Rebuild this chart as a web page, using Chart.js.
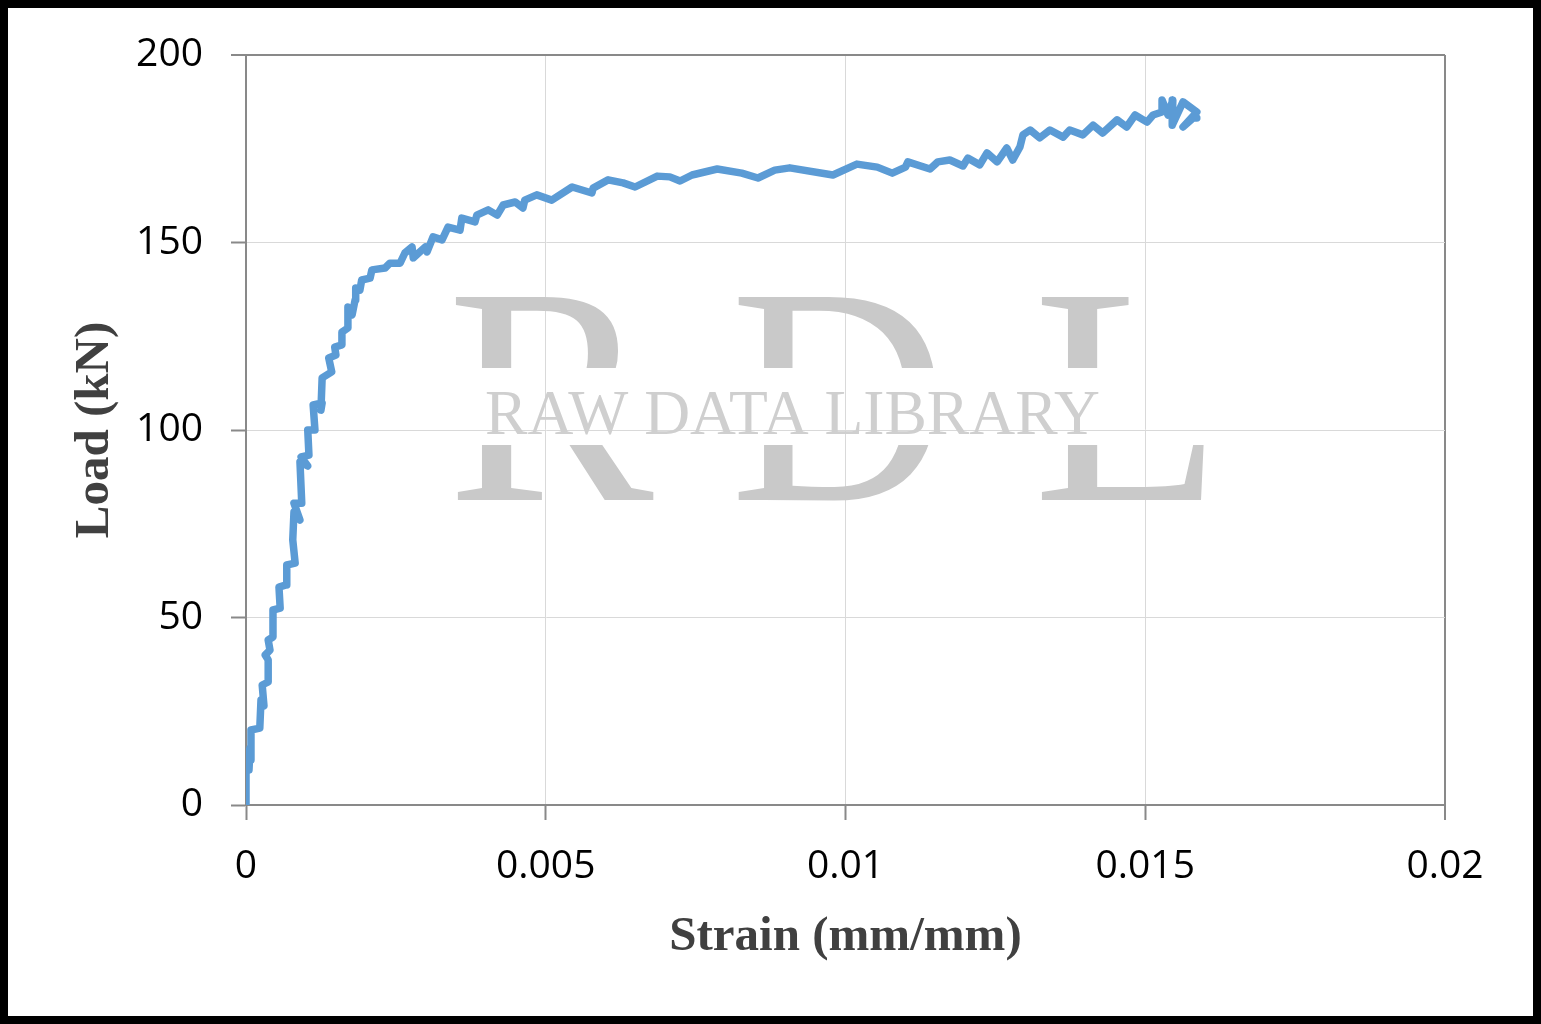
<!DOCTYPE html>
<html>
<head>
<meta charset="utf-8">
<script src="https://cdn.jsdelivr.net/npm/chart.js@4"></script>
<style>
  html, body { margin: 0; padding: 0; background: #fff; }
  #wrap { width: 1541px; height: 1024px; position: relative; }
</style>
</head>
<body>
<div id="wrap"><canvas id="chart"></canvas></div>
<script>
// strain (mm/mm) vs load (kN)
var strain = [0, 0, 0.00005, 0.000067, 0.000083, 0.000083, 0.00023, 0.00025, 0.0003, 0.00027,
  0.00037, 0.00037, 0.00032, 0.0004, 0.00037, 0.00045, 0.00045, 0.00057, 0.00055, 0.00067,
  0.00068, 0.00082, 0.00078, 0.0008, 0.0009, 0.0008, 0.00093, 0.0009, 0.00103, 0.00092,
  0.00105, 0.00103, 0.00115, 0.00112, 0.00127, 0.00125, 0.00127, 0.00143, 0.00138, 0.0015,
  0.00148, 0.0016, 0.0016, 0.0017, 0.0017, 0.00177, 0.00182, 0.00183, 0.0019, 0.00193,
  0.00207, 0.0021, 0.00232, 0.0024, 0.00257, 0.00265, 0.00277, 0.00279, 0.00299, 0.00302,
  0.00312, 0.00327, 0.00337, 0.00357, 0.0036, 0.00382, 0.00385, 0.00404, 0.00419, 0.00429,
  0.00449, 0.00462, 0.00465, 0.00485, 0.0051, 0.00544, 0.00577, 0.00579, 0.00604, 0.00629,
  0.00649, 0.00686, 0.00707, 0.00724, 0.00744, 0.00786, 0.00827, 0.00854, 0.00882, 0.00907,
  0.00979, 0.01019, 0.01053, 0.01078, 0.011, 0.01104, 0.01141, 0.01154, 0.01174, 0.01196,
  0.01204, 0.01224, 0.01236, 0.01253, 0.01269, 0.01279, 0.01291, 0.01296, 0.01308, 0.01324,
  0.01341, 0.01363, 0.01374, 0.01396, 0.01413, 0.01429, 0.01453, 0.01469, 0.01483, 0.01503,
  0.01513, 0.01528, 0.01528, 0.01538, 0.01546, 0.01545, 0.01563, 0.01586, 0.01563, 0.0158,
  0.01586];
var load = [0, 14.1, 9.3, 15.2, 12, 20, 20.5, 28, 26.4, 32,
  32.8, 38.7, 40, 41.3, 44, 44.8, 52, 52.5, 58.1, 58.7,
  64, 64.5, 70.7, 78.1, 76, 80.5, 80.5, 91.5, 90.4, 92.8,
  93.3, 100, 100, 106.7, 107.2, 105.3, 113.9, 115.5, 119.2, 120,
  122.1, 122.7, 126.1, 127.2, 132.8, 130.7, 134.7, 137.9, 137.3, 140,
  140.5, 142.7, 143.2, 144.5, 144.5, 147.2, 148.8, 145.9, 148.8, 147.5,
  151.5, 150.7, 154.1, 153.3, 156.5, 155.5, 157.3, 158.7, 157.3, 160,
  160.8, 159.2, 161.3, 162.7, 161.3, 164.8, 163.2, 164.5, 166.7, 165.9,
  164.8, 167.7, 167.5, 166.4, 168, 169.6, 168.5, 167.2, 169.3, 169.9,
  168, 170.9, 170.1, 168.5, 170.1, 171.5, 169.6, 171.5, 172, 170.4,
  172.5, 170.7, 173.9, 171.5, 175.2, 172, 175.5, 178.7, 180, 177.9,
  180, 178.1, 180, 178.7, 181.3, 179.2, 182.7, 180.8, 184, 182.1,
  184, 184.8, 188, 184, 188, 181.3, 187.5, 184.8, 180.8, 183.2,
  183.2];
var xTicks = [0, 0.005, 0.01, 0.015, 0.02];
var yTicks = [0, 50, 100, 150, 200];

var points = [];
for (var i = 0; i < strain.length; i++)
    points.push({x: strain[i], y: load[i]});

var axisGray = "#898989";
var gridGray = "#d9d9d9";
var titleFont = {family: "'Liberation Serif', 'Times New Roman', serif", size: 49, weight: "bold"};
var tickFont = {family: "'Open Sans', sans-serif", size: 39};

// watermark and outer frame
var decor = {
    id: "decor",
    beforeDatasetsDraw: function(chart) {
        var ctx = chart.ctx;
        ctx.save();
        ctx.fillStyle = "#c9c9c9";
        ctx.font = "310px 'Liberation Serif', serif";
        ctx.textBaseline = "alphabetic";
        ctx.save();
        ctx.beginPath();
        ctx.rect(0, 0, 1541, 368);
        ctx.rect(0, 445, 1541, 600);
        ctx.clip();
        ctx.fillText("R", 447, 500, 212);
        ctx.fillText("D", 730, 500, 218);
        ctx.fillText("L", 1033, 500, 190);
        ctx.restore();
        ctx.fillStyle = "#cfcfcf";
        ctx.font = "64px 'Liberation Serif', serif";
        ctx.fillText("RAW DATA LIBRARY", 485, 434, 615);
        ctx.restore();
    },
    afterDraw: function(chart) {
        var ctx = chart.ctx;
        ctx.save();
        ctx.strokeStyle = "#000";
        ctx.lineWidth = 8;
        ctx.strokeRect(4, 4, 1533, 1016);
        ctx.restore();
    }
};

var chart = new Chart(document.getElementById("chart").getContext("2d"), {
    type: "line",
    data: {
        datasets: [{
            data: points,
            borderColor: "#5B9BD5",
            borderWidth: 7.5,
            borderJoinStyle: "round",
            borderCapStyle: "round",
            pointRadius: 0,
            tension: 0,
            fill: false
        }]
    },
    options: {
        responsive: true,
        maintainAspectRatio: false,
        animation: false,
        layout: {padding: {top: 55, right: 96, left: 0, bottom: 0}},
        plugins: {legend: {display: false}, tooltip: {enabled: false}},
        scales: {
            x: {
                type: "linear",
                min: 0, max: 0.02,
                afterBuildTicks: function(scale) {
                    scale.ticks = xTicks.map(function(v) { return {value: v}; });
                },
                afterFit: function(scale) { scale.height = 219; },
                ticks: {
                    font: tickFont, color: "#000", padding: 23, maxRotation: 0,
                    callback: function(v) { return String(+v.toFixed(4)); }
                },
                grid: {
                    color: function(c) { return c.tick && c.tick.value === 0.02 ? axisGray : gridGray; },
                    lineWidth: function(c) { return c.tick && c.tick.value === 0.02 ? 2 : 1; },
                    tickColor: axisGray, tickLength: 15, tickWidth: 2
                },
                border: {color: axisGray, width: 2},
                title: {display: true, text: "Strain (mm/mm)", font: titleFont, color: "#404040",
                        padding: {top: 57, bottom: 57}}
            },
            y: {
                min: 0, max: 200,
                afterBuildTicks: function(scale) {
                    scale.ticks = yTicks.map(function(v) { return {value: v}; });
                },
                afterFit: function(scale) { scale.width = 246; },
                ticks: {font: tickFont, color: "#000", padding: 28},
                grid: {
                    color: function(c) { return c.tick && c.tick.value === 200 ? axisGray : gridGray; },
                    lineWidth: function(c) { return c.tick && c.tick.value === 200 ? 2 : 1; },
                    tickColor: axisGray, tickLength: 15, tickWidth: 2
                },
                border: {color: axisGray, width: 2},
                title: {display: true, text: "Load (kN)", font: titleFont, color: "#404040",
                        padding: {top: 66, bottom: 66}}
            }
        }
    },
    plugins: [decor]
});
</script>
</body>
</html>
